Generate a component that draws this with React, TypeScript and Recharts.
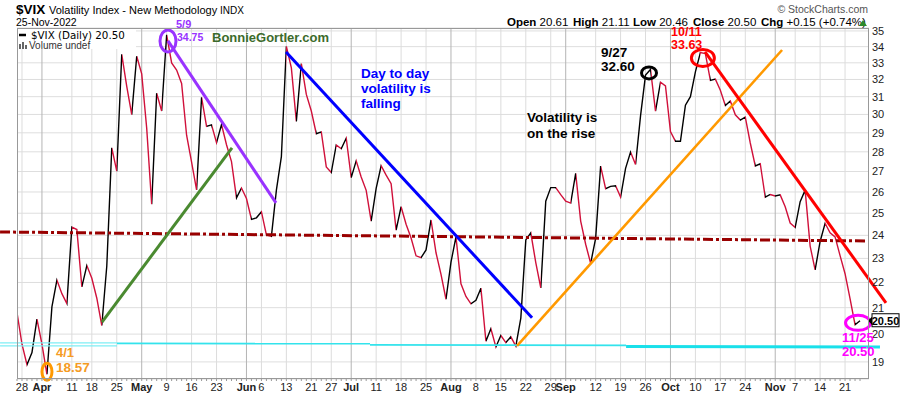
import React from "react";
import {
  LineChart,
  Line,
  XAxis,
  YAxis,
  CartesianGrid,
  ReferenceLine,
  ReferenceDot,
} from "recharts";

// trading days shown on the chart (Mar 25 - Nov 25, 2022)
const dates = [
  "3/25", "3/28", "3/29", "3/30", "3/31",
  "4/1", "4/4", "4/5", "4/6", "4/7", "4/8", "4/11", "4/12", "4/13", "4/14", "4/18", "4/19", "4/20", "4/21", "4/22", "4/25", "4/26", "4/27", "4/28", "4/29",
  "5/2", "5/3", "5/4", "5/5", "5/6", "5/9", "5/10", "5/11", "5/12", "5/13", "5/16", "5/17", "5/18", "5/19", "5/20", "5/23", "5/24", "5/25", "5/26", "5/27", "5/31",
  "6/1", "6/2", "6/3", "6/6", "6/7", "6/8", "6/9", "6/10", "6/13", "6/14", "6/15", "6/16", "6/17", "6/21", "6/22", "6/23", "6/24", "6/27", "6/28", "6/29", "6/30",
  "7/1", "7/5", "7/6", "7/7", "7/8", "7/11", "7/12", "7/13", "7/14", "7/15", "7/18", "7/19", "7/20", "7/21", "7/22", "7/25", "7/26", "7/27", "7/28", "7/29",
  "8/1", "8/2", "8/3", "8/4", "8/5", "8/8", "8/9", "8/10", "8/11", "8/12", "8/15", "8/16", "8/17", "8/18", "8/19", "8/22", "8/23", "8/24", "8/25", "8/26", "8/29", "8/30", "8/31",
  "9/1", "9/2", "9/6", "9/7", "9/8", "9/9", "9/12", "9/13", "9/14", "9/15", "9/16", "9/19", "9/20", "9/21", "9/22", "9/23", "9/26", "9/27", "9/28", "9/29", "9/30",
  "10/3", "10/4", "10/5", "10/6", "10/7", "10/10", "10/11", "10/12", "10/13", "10/14", "10/17", "10/18", "10/19", "10/20", "10/21", "10/24", "10/25", "10/26", "10/27", "10/28", "10/31",
  "11/1", "11/2", "11/3", "11/4", "11/7", "11/8", "11/9", "11/10", "11/11", "11/14", "11/15", "11/16", "11/17", "11/18", "11/21", "11/22", "11/23", "11/25",
];

// daily closes
const closes = [
  20.81, 19.63, 18.9, 19.33, 20.56,
  19.63, 18.57, 21.03, 22.1, 21.55, 21.16, 24.37, 24.26, 21.82, 22.7, 22.17, 21.37, 20.32, 22.68, 28.21, 27.02, 33.52, 31.6, 29.99, 33.4,
  32.34, 29.25, 25.42, 31.2, 30.19, 34.75, 32.99, 32.56, 31.77, 28.87, 27.47, 26.1, 30.96, 29.35, 29.43, 28.48, 29.45, 28.37, 27.5, 25.72, 26.19,
  25.69, 24.72, 24.79, 25.07, 24.02, 23.96, 26.09, 27.75, 34.02, 32.69, 29.62, 32.95, 31.13, 30.19, 28.95, 29.05, 27.23, 26.95, 28.36, 28.16, 28.71,
  26.7, 27.54, 26.73, 26.08, 24.64, 26.17, 27.29, 26.82, 26.4, 24.23, 25.3, 24.5, 23.88, 23.11, 23.03, 23.36, 24.69, 23.24, 22.33, 21.33,
  22.84, 23.93, 21.95, 21.44, 21.15, 21.29, 21.77, 19.74, 20.2, 19.53, 19.95, 19.69, 19.9, 19.56, 20.6, 23.8, 24.11, 22.82, 21.78, 25.56, 26.21, 26.21, 25.87,
  25.56, 25.47, 26.91, 24.64, 23.61, 22.79, 23.87, 27.27, 26.16, 26.27, 26.3, 25.76, 27.16, 27.99, 27.35, 29.92, 32.26, 32.6, 30.18, 31.84, 31.62,
  29.07, 28.55, 28.55, 30.52, 31.0, 32.45, 33.63, 33.57, 31.94, 32.02, 31.37, 30.5, 30.76, 29.98, 29.69, 29.85, 28.46, 27.28, 27.39, 25.75, 25.88,
  25.81, 25.86, 25.3, 24.55, 24.35, 25.54, 26.09, 23.53, 22.52, 23.73, 24.54, 24.11, 23.93, 23.12, 22.36, 21.35, 20.35, 20.5,
];

const tickDates = [
  "3/28", "4/1", "4/11", "4/18", "4/25", "5/2", "5/9", "5/16", "5/23", "6/1", "6/6", "6/13", "6/21", "6/27",
  "7/1", "7/11", "7/18", "7/25", "8/1", "8/8", "8/15", "8/22", "8/29", "9/1", "9/12", "9/19", "9/26",
  "10/3", "10/10", "10/17", "10/24", "11/1", "11/7", "11/14", "11/21",
];
const tickLabels = [
  "28", "Apr", "11", "18", "25", "May", "9", "16", "23", "Jun", "6", "13", "21", "27",
  "Jul", "11", "18", "25", "Aug", "8", "15", "22", "29", "Sep", "12", "19", "26",
  "Oct", "10", "17", "24", "Nov", "7", "14", "21",
];
const priceTicks = [19, 20, 21, 22, 23, 24, 25, 26, 27, 28, 29, 30, 31, 32, 33, 34, 35];

// hand-drawn trend lines, in (day index, price) terms
const trendLines = [
  { x1: 30.27, y1: 34.36, x2: 51.92, y2: 25.48, color: "#9933ff", w: 3 },
  { x1: 17.04, y1: 20.45, x2: 43.1, y2: 28.2, color: "#4a8a30", w: 3 },
  { x1: 53.93, y1: 33.67, x2: 103.25, y2: 20.61, color: "#0000ff", w: 3 },
  { x1: 100.24, y1: 19.57, x2: 153.37, y2: 33.79, color: "#ff9900", w: 2.6 },
  { x1: 137.93, y1: 33.67, x2: 174.2, y2: 21.19, color: "#ff0000", w: 3 },
];
const supportLines = [
  { x1: -3.4, y1: 19.68, x2: 20.05, y2: 19.68, color: "#7eeef4", w: 1.2 },
  { x1: -3.4, y1: 19.57, x2: 20.05, y2: 19.57, color: "#7eeef4", w: 1.2 },
  { x1: 20.05, y1: 19.66, x2: 70.77, y2: 19.65, color: "#33e3ec", w: 1.8 },
  { x1: 70.77, y1: 19.61, x2: 122.1, y2: 19.59, color: "#33e3ec", w: 1.8 },
  { x1: 122.1, y1: 19.55, x2: 173.0, y2: 19.53, color: "#19e0ea", w: 3 },
];
const circles = [
  { x: 30.27, y: 34.36, rx: 8, ry: 11, color: "#9933ff" },
  { x: 6.01, y: 18.66, rx: 5, ry: 8.5, color: "#ff9900" },
  { x: 126.7, y: 32.39, rx: 7.5, ry: 6, color: "#000000" },
  { x: 137.5, y: 33.3, rx: 11.5, ry: 8.5, color: "#ff0000" },
  { x: 168.6, y: 20.42, rx: 12.5, ry: 7.5, color: "#ff00ff" },
];

const FONT = "'Liberation Sans', Arial, sans-serif";
const data = closes.map((c, i) => ({ i, date: dates[i], close: c }));
const tickIdx = tickDates.map((d) => dates.indexOf(d));
const labelAt = new Map(tickIdx.map((t, k) => [t, tickLabels[k]]));
const isMonth = (s: string) => isNaN(Number(s));

const XTick = (props: any) => {
  const { x, y, payload } = props;
  const lbl = labelAt.get(payload.value);
  return (
    <g>
      <line x1={x} x2={x} y1={y} y2={y + 2} stroke="#999" strokeWidth={1} />
      {lbl && (
        <text
          x={x}
          y={y + 12}
          textAnchor="middle"
          fontSize={11}
          fontFamily={FONT}
          fontWeight={isMonth(lbl) ? "bold" : "normal"}
          fill="#222"
        >
          {lbl}
        </text>
      )}
    </g>
  );
};

const last = closes.length - 1;

export default function App() {
  const n = closes.length - 1;
  const stops: React.ReactNode[] = [];
  for (let k = 0; k < n; k++) {
    const c = closes[k + 1] >= closes[k] ? "#000000" : "#d0103a";
    stops.push(<stop key={"a" + k} offset={k / n} stopColor={c} />);
    stops.push(<stop key={"b" + k} offset={(k + 1) / n} stopColor={c} />);
  }

  return (
    <div style={{ position: "absolute", left: 0, top: 0, width: 900, height: 396, background: "#fff" }}>
      <LineChart
        width={900}
        height={396}
        data={data}
        margin={{ top: 28, right: 0, bottom: 0, left: 17 }}
      >
        <defs>
          <linearGradient id="vixGrad" x1="0" y1="0" x2="1" y2="0">
            {stops}
          </linearGradient>
        </defs>
        <CartesianGrid vertical={false} stroke="#dedede" />
        {tickIdx.map((t, k) => (
          <ReferenceLine
            key={"g" + k}
            x={t}
            stroke={isMonth(tickLabels[k]) ? "#b4b4b4" : "#dcdcdc"}
            strokeWidth={1}
          />
        ))}
        <XAxis
          dataKey="i"
          type="number"
          domain={[0, 170.8]}
          allowDataOverflow
          ticks={data.map((d) => d.i)}
          interval={0}
          tick={<XTick />}
          tickLine={false}
          axisLine={false}
          tickSize={0}
          tickMargin={0}
          height={17}
        />
        <YAxis
          orientation="right"
          scale="log"
          domain={[18.41, 35.19]}
          allowDataOverflow
          ticks={priceTicks}
          interval={0}
          width={31}
          tickLine={false}
          axisLine={false}
          tickSize={0}
          tickMargin={3}
          tick={{ fontSize: 11, fill: "#222", fontFamily: FONT }}
        />
        <Line
          dataKey="close"
          stroke="url(#vixGrad)"
          strokeWidth={1.4}
          dot={false}
          isAnimationActive={false}
        />
        {supportLines.map((s, k) => (
          <ReferenceLine
            key={"s" + k}
            segment={[{ x: s.x1, y: s.y1 }, { x: s.x2, y: s.y2 }]}
            stroke={s.color}
            strokeWidth={s.w}
            ifOverflow="visible"
          />
        ))}
        <ReferenceLine
          segment={[{ x: -3.4, y: 24.15 }, { x: 170.8, y: 23.75 }]}
          stroke="#990000"
          strokeWidth={3}
          strokeDasharray="10 3 3 3"
          ifOverflow="visible"
        />
        {trendLines.map((t, k) => (
          <ReferenceLine
            key={"t" + k}
            segment={[{ x: t.x1, y: t.y1 }, { x: t.x2, y: t.y2 }]}
            stroke={t.color}
            strokeWidth={t.w}
            ifOverflow="visible"
          />
        ))}
        {circles.map((c, k) => (
          <ReferenceDot
            key={"c" + k}
            x={c.x}
            y={c.y}
            ifOverflow="visible"
            shape={(p: any) => (
              <ellipse cx={p.cx} cy={p.cy} rx={c.rx} ry={c.ry} fill="none" stroke={c.color} strokeWidth={3} />
            )}
          />
        ))}
        <ReferenceDot
          x={last}
          y={closes[last]}
          ifOverflow="visible"
          shape={(p: any) => (
            <g>
              <path d={`M${p.cx + 8} ${p.cy} L${p.cx + 12} ${p.cy - 4} L${p.cx + 12} ${p.cy + 4} Z`} fill="#000" />
              <rect x={p.cx + 12} y={p.cy - 7} width={27} height={13} fill="#fff" stroke="#000" strokeWidth={1} />
              <text x={p.cx + 25.5} y={p.cy + 4} textAnchor="middle" fontSize={11} fontWeight="bold" fontFamily={FONT} fill="#000">
                {closes[last].toFixed(2)}
              </text>
            </g>
          )}
        />
      </LineChart>

      <svg
        width={900}
        height={396}
        style={{ position: "absolute", left: 0, top: 0, pointerEvents: "none" }}
        fontFamily={FONT}
      >
        <rect x={17.5} y={28.5} width={851} height={350} fill="none" stroke="#999" />
        <text x={16} y={14} fontSize={13.5} fontWeight="bold" fill="#000">$VIX</text>
        <text x={49} y={14} fontSize={11} fill="#000">Volatility Index - New Methodology</text>
        <text x={220} y={14} fontSize={10} fill="#000">INDX</text>
        <text x={16} y={26} fontSize={10.5} fill="#000">25-Nov-2022</text>
        <text x={868} y={13} fontSize={10.5} fill="#555" textAnchor="end">© StockCharts.com</text>

        <text x={507} y={26} fontSize={11.5} fill="#000"><tspan fontWeight="bold">Open</tspan>{" 20.61"}</text>
        <text x={573} y={26} fontSize={11.5} fill="#000"><tspan fontWeight="bold">High</tspan>{" 21.11"}</text>
        <text x={633} y={26} fontSize={11.5} fill="#000"><tspan fontWeight="bold">Low</tspan>{" 20.46"}</text>
        <text x={693} y={26} fontSize={11.5} fill="#000"><tspan fontWeight="bold">Close</tspan>{" 20.50"}</text>
        <text x={761} y={26} fontSize={11.5} fill="#000"><tspan fontWeight="bold">Chg</tspan>{" +0.15 (+0.74%)"}</text>
        <polygon points="859,26 867,26 863,20" fill="#2c8a2c" />

        <rect x={18} y={29} width={118} height={20} fill="#fff" />
        <line x1={19} x2={26} y1={35} y2={35} stroke="#000" strokeWidth={2.5} />
        <text x={31} y={38.5} fontSize={10.3} fontFamily="'DejaVu Sans', sans-serif" fill="#000">$VIX (Daily) 20.50</text>
        <rect x={19} y={44} width={2} height={5} fill="#666" />
        <rect x={22} y={42} width={2} height={7} fill="#666" />
        <rect x={25} y={45} width={2} height={4} fill="#666" />
        <text x={29} y={49} fontSize={10} fill="#333">Volume undef</text>

        <text x={212} y={42} fontSize={13} fontWeight="bold" fill="#3c6b2b">BonnieGortler.com</text>

        <g fontWeight="bold">
          <text x={176} y={28} fontSize={11} fill="#9933ff">5/9</text>
          <text x={177} y={41} fontSize={10.5} fill="#9933ff">34.75</text>
          <text x={56} y={357} fontSize={13} fill="#f59b23">4/1</text>
          <text x={56} y={372} fontSize={13.5} fill="#f59b23">18.57</text>
          <text x={601} y={57} fontSize={13.5} fill="#000">9/27</text>
          <text x={601} y={71} fontSize={13.5} fill="#000">32.60</text>
          <text x={671} y={36} fontSize={12.5} fill="#ff0000">10/11</text>
          <text x={671} y={49} fontSize={12.5} fill="#ff0000">33.63</text>
          <text x={842} y={342} fontSize={13} fill="#ff00ff">11/25</text>
          <text x={842} y={356} fontSize={13} fill="#ff00ff">20.50</text>
          <text x={361} y={78} fontSize={13.5} fill="#0000ff">Day to day</text>
          <text x={361} y={93} fontSize={13.5} fill="#0000ff">volatility is</text>
          <text x={361} y={108} fontSize={13.5} fill="#0000ff">falling</text>
          <text x={527} y={122} fontSize={13.5} fill="#000">Volatility is</text>
          <text x={527} y={138} fontSize={13.5} fill="#000">on the rise</text>
        </g>
      </svg>
    </div>
  );
}
